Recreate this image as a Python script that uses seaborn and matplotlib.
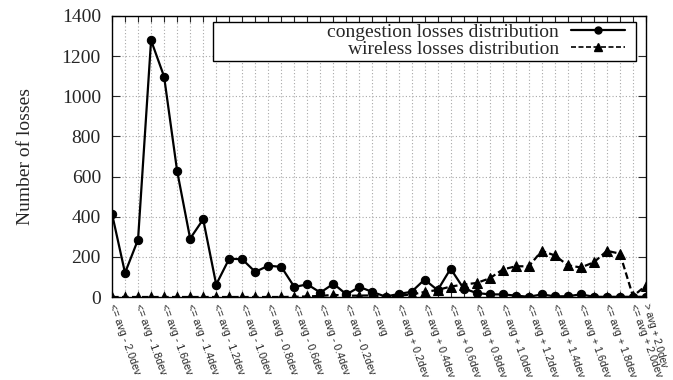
import matplotlib
matplotlib.use("Agg")
import matplotlib.pyplot as plt
import seaborn as sns
import pandas as pd
from matplotlib.patches import Rectangle
from matplotlib.lines import Line2D

# ---- data ----
steps = ["- 2.0", "- 1.9", "- 1.8", "- 1.7", "- 1.6", "- 1.5", "- 1.4", "- 1.3",
         "- 1.2", "- 1.1", "- 1.0", "- 0.9", "- 0.8", "- 0.7", "- 0.6", "- 0.5",
         "- 0.4", "- 0.3", "- 0.2", "- 0.1", "0", "+ 0.1", "+ 0.2", "+ 0.3",
         "+ 0.4", "+ 0.5", "+ 0.6", "+ 0.7", "+ 0.8", "+ 0.9", "+ 1.0", "+ 1.1",
         "+ 1.2", "+ 1.3", "+ 1.4", "+ 1.5", "+ 1.6", "+ 1.7", "+ 1.8", "+ 1.9",
         "+ 2.0", "> 2.0"]
tick_labels = ["<= avg - 2.0dev", "", "<= avg - 1.8dev", "", "<= avg - 1.6dev", "",
               "<= avg - 1.4dev", "", "<= avg - 1.2dev", "", "<= avg - 1.0dev", "",
               "<= avg - 0.8dev", "", "<= avg - 0.6dev", "", "<= avg - 0.4dev", "",
               "<= avg - 0.2dev", "", "<= avg", "", "<= avg + 0.2dev", "",
               "<= avg + 0.4dev", "", "<= avg + 0.6dev", "", "<= avg + 0.8dev", "",
               "<= avg + 1.0dev", "", "<= avg + 1.2dev", "", "<= avg + 1.4dev", "",
               "<= avg + 1.6dev", "", "<= avg + 1.8dev", "", "<= avg + 2.0dev",
               "> avg + 2.0dev"]
congestion = [415, 120, 286, 1279, 1098, 628, 291, 387, 62, 191, 188, 125, 156, 150,
              50, 63, 22, 66, 13, 50, 25, 2, 15, 26, 87, 34, 141, 42, 20, 13, 13, 7,
              1, 13, 3, 4, 13, 1, 1, 1, 1, 1]
wireless = [0, 0, 0, 0, 0, 0, 0, 0, 0, 0, 0, 0, 0, 0, 1, 3, 5, 11, 6, 7, 8, 1, 6, 13,
            25, 35, 52, 62, 70, 93, 137, 153, 153, 230, 207, 158, 147, 173, 230, 216,
            4, 57]
series_names = ["congestion losses distribution", "wireless losses distribution"]

idx = list(range(len(steps)))
df_c = pd.DataFrame({"pos": idx, "val": congestion})
df_w = pd.DataFrame({"pos": idx, "val": wireless})

sns.set_style("white")
serif = ["Liberation Serif", "DejaVu Serif"]
sans = ["Liberation Sans", "DejaVu Sans"]
plt.rcParams["font.family"] = serif

W, H = 673, 380
fig = plt.figure(figsize=(W / 100, H / 100), dpi=100)
L, R, T, B = 112, 646, 16, 297
ax = fig.add_axes([L / W, (H - B) / H, (R - L) / W, (B - T) / H])

sns.lineplot(data=df_c, x="pos", y="val", ax=ax, color="black", lw=1.6,
             marker="o", markersize=6, markeredgecolor="black", zorder=3,
             legend=False)
sns.lineplot(data=df_w, x="pos", y="val", ax=ax, color="black", lw=1.6,
             linestyle=(0, (3, 1.5)), marker="^", markersize=6.5,
             markeredgecolor="black", zorder=3, legend=False)

ax.set_xlim(0, len(steps) - 1)
ax.set_ylim(0, 1400)
ax.set_yticks(range(0, 1401, 200))
ax.set_xticks(idx)
ax.set_xticklabels(tick_labels, rotation=-70, ha="left", va="center",
                   rotation_mode="anchor", family=sans, fontsize=7.7)
last = ax.get_xticklabels()[-1]
last.set_rotation(-74)
last.set_fontsize(7.2)
ax.tick_params(axis="x", direction="in", length=4, width=0.8, pad=5,
               top=True, bottom=True)
ax.tick_params(axis="y", direction="in", length=6, width=0.8, pad=8,
               left=True, right=True, labelsize=14)
for lab in ax.get_yticklabels():
    lab.set_family(serif)
ax.set_xlabel("")
ax.set_ylabel("Number of losses", fontsize=14, family=serif, labelpad=20)

ax.grid(True, color="#a8a8a8", linestyle=(0, (1, 2)), linewidth=0.8)
ax.set_axisbelow(True)
for s in ax.spines.values():
    s.set_color("black")
    s.set_linewidth(1.0)

# legend box (gnuplot style)
bx0, bx1 = (213 - L) / (R - L), (636 - L) / (R - L)
by0, by1 = (B - 61) / (B - T), (B - 22) / (B - T)
ax.add_patch(Rectangle((bx0, by0), bx1 - bx0, by1 - by0, transform=ax.transAxes,
                       facecolor="white", edgecolor="black", lw=1.0, zorder=5))
handles = [Line2D([], [], color="black", lw=1.6, marker="o", markersize=5),
           Line2D([], [], color="black", lw=1.2, linestyle=(0, (3, 1.5)),
                  marker="^", markersize=5.5)]
leg = ax.legend(handles, series_names, loc="upper right", markerfirst=False,
                frameon=False, handlelength=2.8, handletextpad=0.6,
                borderpad=0, borderaxespad=0, labelspacing=0.0,
                bbox_to_anchor=((625 - L) / (R - L), (B - 23) / (B - T)),
                prop={"family": serif, "size": 14})
leg.set_zorder(6)

fig.savefig("out.png", dpi=100)
